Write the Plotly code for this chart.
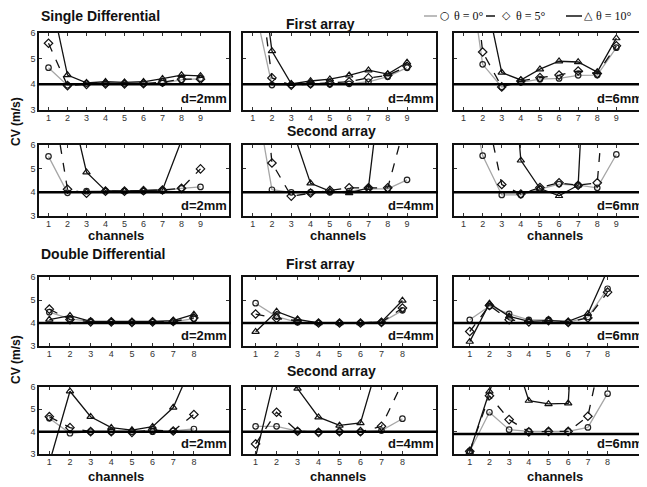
import plotly.graph_objects as go

# the page body adds an 8px margin, so the figure is sized to the window minus that offset
OFF = 8
W, H = 647 - OFF, 487 - OFF

ch_sd = [1, 2, 3, 4, 5, 6, 7, 8, 9]
ch_dd = [1, 2, 3, 4, 5, 6, 7, 8]
y_ticks = [3, 4, 5, 6]
d_labels = ["d=2mm", "d=4mm", "d=6mm"]
series_names = ["θ = 0°", "θ = 5°", "θ = 10°"]

# ---- Single differential, first array ----
sd_a1_d2_th0 = [4.65, 3.96, 4.03, 4.03, 4.03, 4.03, 4.05, 4.17, 4.22]
sd_a1_d2_th5 = [5.6, 3.95, 4.0, 4.02, 4.02, 4.03, 4.08, 4.2, 4.2]
sd_a1_d2_th10 = [7.8, 4.36, 4.06, 4.1, 4.08, 4.1, 4.22, 4.36, 4.33]

sd_a1_d4_th0 = [7.4, 3.97, 3.97, 4.0, 4.0, 4.02, 4.1, 4.3, 4.65]
sd_a1_d4_th5 = [10.0, 4.25, 3.97, 4.02, 4.05, 4.1, 4.25, 4.35, 4.7]
sd_a1_d4_th10 = [11.0, 5.3, 4.02, 4.13, 4.2, 4.35, 4.55, 4.4, 4.85]

sd_a1_d6_th0 = [10.0, 4.78, 3.9, 4.08, 4.2, 4.23, 4.35, 4.36, 5.43]
sd_a1_d6_th5 = [12.0, 5.26, 3.9, 4.13, 4.26, 4.36, 4.52, 4.42, 5.5]
sd_a1_d6_th10 = [14.0, 8.0, 4.46, 4.17, 4.59, 4.9, 4.87, 4.48, 5.8]

# ---- Single differential, second array ----
sd_a2_d2_th0 = [5.52, 3.98, 4.05, 4.05, 4.05, 4.05, 4.07, 4.17, 4.23]
sd_a2_d2_th5 = [9.0, 4.13, 3.96, 4.05, 4.05, 4.07, 4.1, 4.17, 4.99]
sd_a2_d2_th10 = [12.0, 8.3, 4.85, 4.07, 4.05, 4.07, 4.1, 6.2, 9.0]

sd_a2_d4_th0 = [8.8, 4.11, 4.0, 4.0, 4.0, 4.05, 4.15, 4.15, 4.53]
sd_a2_d4_th5 = [14.0, 5.24, 3.84, 3.97, 4.08, 4.19, 4.19, 4.19, 7.2]
sd_a2_d4_th10 = [13.0, 10.0, 6.8, 4.38, 4.05, 3.97, 4.19, 11.0, 14.0]

sd_a2_d6_th0 = [9.5, 5.55, 3.89, 3.89, 4.14, 4.35, 4.3, 4.19, 5.6]
sd_a2_d6_th5 = [12.0, 8.1, 4.33, 3.93, 4.2, 4.4, 4.3, 4.4, 14.0]
sd_a2_d6_th10 = [16.0, 16.0, 15.0, 5.35, 4.16, 3.85, 4.3, 20.0, 20.0]

# ---- Double differential, first array ----
dd_a1_d2_th0 = [4.47, 4.18, 4.07, 4.05, 4.03, 4.05, 4.05, 4.19]
dd_a1_d2_th5 = [4.6, 4.15, 4.05, 4.05, 4.03, 4.05, 4.07, 4.22]
dd_a1_d2_th10 = [4.15, 4.32, 4.07, 4.07, 4.05, 4.07, 4.1, 4.37]

dd_a1_d4_th0 = [4.86, 4.28, 4.03, 4.0, 4.0, 4.0, 4.02, 4.55]
dd_a1_d4_th5 = [4.39, 4.2, 4.1, 4.0, 4.0, 4.0, 4.03, 4.65]
dd_a1_d4_th10 = [3.62, 4.5, 4.16, 4.0, 4.0, 4.0, 4.05, 4.98]

dd_a1_d6_th0 = [4.14, 4.73, 4.4, 4.14, 4.14, 4.03, 4.26, 5.49]
dd_a1_d6_th5 = [3.63, 4.76, 4.14, 4.05, 4.1, 4.03, 4.22, 5.34]
dd_a1_d6_th10 = [3.19, 4.85, 4.29, 4.07, 4.1, 4.07, 4.4, 6.3]

# ---- Double differential, second array ----
dd_a2_d2_th0 = [4.6, 3.93, 4.0, 4.0, 4.0, 4.0, 4.03, 4.12]
dd_a2_d2_th5 = [4.67, 4.18, 4.0, 4.0, 3.97, 4.07, 4.03, 4.77]
dd_a2_d2_th10 = [2.6, 5.81, 4.67, 4.18, 4.07, 4.22, 5.08, 7.2]

dd_a2_d4_th0 = [4.24, 4.24, 4.02, 3.97, 4.0, 3.99, 4.05, 4.58]
dd_a2_d4_th5 = [3.45, 4.87, 4.02, 3.97, 4.0, 4.0, 4.24, 6.2]
dd_a2_d4_th10 = [2.87, 6.8, 5.93, 4.65, 4.28, 4.39, 7.6, 10.0]

dd_a2_d6_th0 = [3.12, 4.87, 4.09, 4.01, 4.01, 4.01, 4.19, 5.7]
dd_a2_d6_th5 = [3.12, 5.61, 4.54, 3.99, 4.01, 4.01, 4.69, 8.8]
dd_a2_d6_th10 = [3.1, 5.8, 8.1, 5.39, 5.24, 5.27, 20.0, 20.0]

# reference (true) conduction velocity line per panel
ref_cv = [4.0, 4.0, 4.0,
          4.0, 4.0, 4.0,
          4.0, 4.0, 4.0,
          4.0, 4.0, 3.9]

panel_data = [
    (ch_sd, sd_a1_d2_th0, sd_a1_d2_th5, sd_a1_d2_th10),
    (ch_sd, sd_a1_d4_th0, sd_a1_d4_th5, sd_a1_d4_th10),
    (ch_sd, sd_a1_d6_th0, sd_a1_d6_th5, sd_a1_d6_th10),
    (ch_sd, sd_a2_d2_th0, sd_a2_d2_th5, sd_a2_d2_th10),
    (ch_sd, sd_a2_d4_th0, sd_a2_d4_th5, sd_a2_d4_th10),
    (ch_sd, sd_a2_d6_th0, sd_a2_d6_th5, sd_a2_d6_th10),
    (ch_dd, dd_a1_d2_th0, dd_a1_d2_th5, dd_a1_d2_th10),
    (ch_dd, dd_a1_d4_th0, dd_a1_d4_th5, dd_a1_d4_th10),
    (ch_dd, dd_a1_d6_th0, dd_a1_d6_th5, dd_a1_d6_th10),
    (ch_dd, dd_a2_d2_th0, dd_a2_d2_th5, dd_a2_d2_th10),
    (ch_dd, dd_a2_d4_th0, dd_a2_d4_th5, dd_a2_d4_th10),
    (ch_dd, dd_a2_d6_th0, dd_a2_d6_th5, dd_a2_d6_th10),
]


def fx(px):
    return (px - OFF) / W


def fy(py):
    return 1 - (py - OFF) / H


# ---- layout geometry (screen pixels) ----
col_px = [(39, 229), (243, 436), (454, 645)]
row_px = [(33, 110), (145, 216), (277, 346), (387, 454)]
x_ranges_sd = [[0.5, 10.5], [0.5, 10.5], [0.5, 10.5]]
x_ranges_dd = [[0.5, 9.7], [0.4, 9.6], [0.2, 9.9]]

line_styles = [
    dict(color="#a6a6a6", width=1.3, dash="solid"),
    dict(color="#111", width=1.3, dash="dash"),
    dict(color="#111", width=1.3, dash="solid"),
]
marker_styles = [
    dict(symbol="circle-open", size=5.5, color="#222", line=dict(width=1.2)),
    dict(symbol="diamond-open", size=6.5, color="#111", line=dict(width=1.2)),
    dict(symbol="triangle-up-open", size=6.5, color="#111", line=dict(width=1.2)),
]

fig = go.Figure()
layout_axes = {}
shapes = []
annotations = []
FONT = "Liberation Sans"

for i, (chs, s0, s5, s10) in enumerate(panel_data):
    r, c = divmod(i, 3)
    n = i + 1
    xa = "x" if n == 1 else f"x{n}"
    ya = "y" if n == 1 else f"y{n}"
    for k, vals in enumerate([s0, s5, s10]):
        fig.add_trace(go.Scatter(
            x=chs, y=vals, mode="lines+markers", xaxis=xa, yaxis=ya,
            name=series_names[k], showlegend=False,
            line=line_styles[k], marker=marker_styles[k],
            cliponaxis=True,
        ))
    x0, x1 = col_px[c]
    y0, y1 = row_px[r]
    xr = x_ranges_sd[c] if r < 2 else x_ranges_dd[c]
    layout_axes[f"xaxis{'' if n == 1 else n}"] = dict(
        domain=[fx(x0), fx(x1)], range=xr, anchor=ya, automargin=False,
        tickvals=chs, ticktext=[str(v) for v in chs],
        showline=True, linecolor="#111", linewidth=1.5, mirror="ticks",
        ticks="inside", ticklen=3, tickcolor="#333", ticklabelstandoff=-2,
        tickfont=dict(family=FONT, size=9, color="#333"),
        showgrid=False, zeroline=False, fixedrange=True,
    )
    layout_axes[f"yaxis{'' if n == 1 else n}"] = dict(
        domain=[fy(y1), fy(y0)], range=[3, 6], anchor=xa, automargin=False,
        tickvals=y_ticks, ticktext=[str(v) for v in y_ticks],
        showticklabels=(c == 0),
        showline=True, linecolor="#111", linewidth=1.5, mirror="ticks",
        ticks="inside", ticklen=3, tickcolor="#333",
        tickfont=dict(family=FONT, size=9, color="#333"),
        showgrid=False, zeroline=False, fixedrange=True,
    )
    shapes.append(dict(type="line", xref=f"{xa} domain", yref=ya,
                       x0=-0.005, x1=1.01, y0=ref_cv[i], y1=ref_cv[i],
                       line=dict(color="black", width=2.5), layer="above"))
    annotations.append(dict(text=f"<b>{d_labels[c]}</b>", xref=f"{xa} domain", yref=f"{ya} domain",
                            x=0.998, y=0.02, xanchor="right", yanchor="bottom", showarrow=False,
                            font=dict(family=FONT, size=13, color="#111")))


def txt(text, x, y, size=14, xanchor="center", angle=0, family=FONT):
    annotations.append(dict(text=text, xref="paper", yref="paper", x=fx(x), y=fy(y),
                            xanchor=xanchor, yanchor="middle", showarrow=False, textangle=angle,
                            font=dict(family=family, size=size, color="#111")))


txt("<b>Single Differential</b>", 39, 16, xanchor="left")
txt("<b>First array</b>", 284, 24, xanchor="left")
txt("<b>Second array</b>", 285, 131, xanchor="left")
txt("<b>Double Differential</b>", 39, 254, xanchor="left")
txt("<b>First array</b>", 284, 264, xanchor="left")
txt("<b>Second array</b>", 285, 371, xanchor="left")
for cx in [116, 338, 555]:
    txt("<b>channels</b>", cx, 236, size=13)
    txt("<b>channels</b>", cx, 476, size=13)
txt("<b>CV (m/s)</b>", 16, 122, size=12, angle=-90)
txt("<b>CV (m/s)</b>", 16, 360, size=12, angle=-90)

# ---- manual legend (top right) ----
leg_y = 16
leg_items = [
    (424, 437, "○", 445, 452),
    (486, 500, "◇", 507, 514),
    (566, 582, "△", 588, 594),
]
for k, (lx0, lx1, sym, sx, tx) in enumerate(leg_items):
    shapes.append(dict(type="line", xref="paper", yref="paper",
                       x0=fx(lx0), x1=fx(lx1), y0=fy(leg_y), y1=fy(leg_y),
                       line=dict(color=line_styles[k]["color"], width=1.5,
                                 dash="dash" if k == 1 else "solid")))
    txt(sym, sx, leg_y, size=11, family="DejaVu Sans")
    txt(series_names[k], tx, leg_y, size=12, xanchor="left", family="Liberation Serif")

fig.update_layout(
    width=W, height=H, margin=dict(l=0, r=0, t=0, b=0),
    paper_bgcolor="white", plot_bgcolor="white",
    shapes=shapes, annotations=annotations, showlegend=False,
    **layout_axes,
)

fig.write_html("out.html")
